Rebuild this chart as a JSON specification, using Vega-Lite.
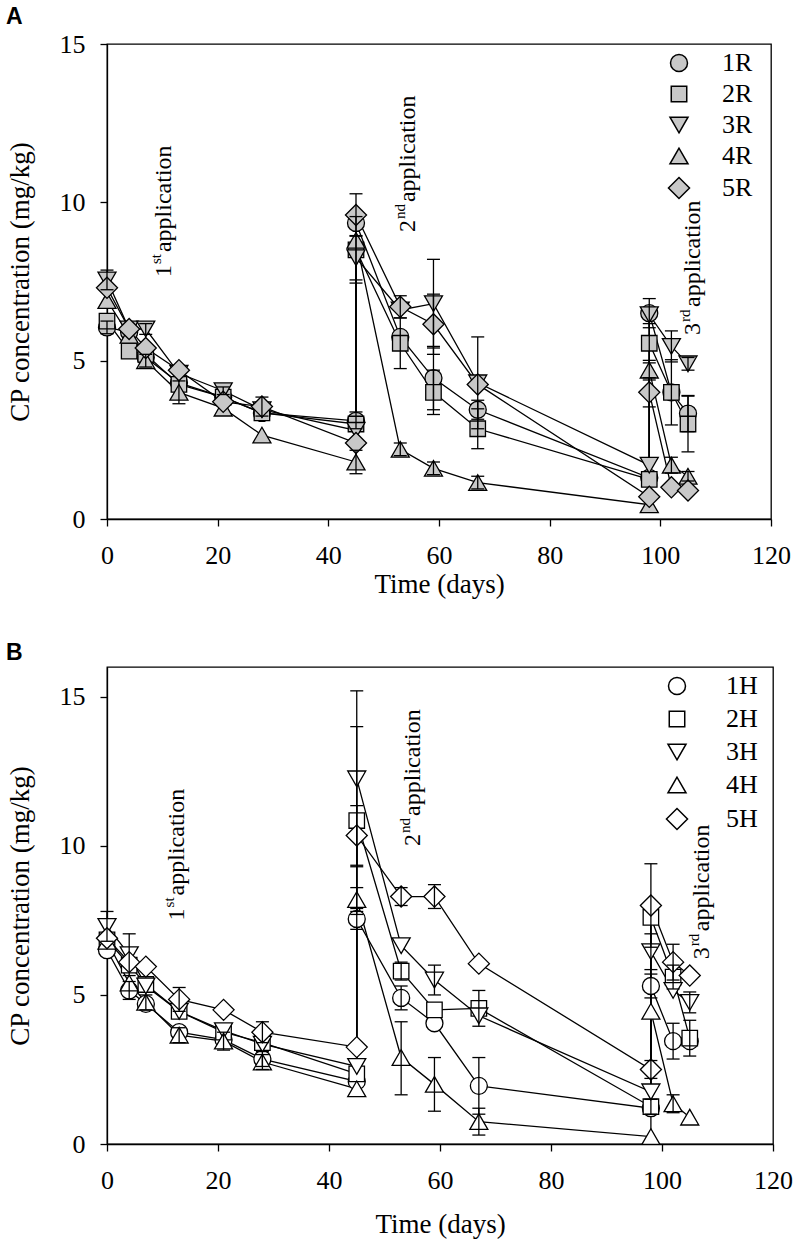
{
  "$schema": "https://vega.github.io/schema/vega-lite/v6.json",
  "padding": {"left": 5, "top": 5, "right": 5, "bottom": 5},
  "background": "white",
  "config": {
    "font": "Liberation Serif",
    "view": {"stroke": "black", "strokeWidth": 1.3},
    "style": {"guide-label": {"font": "Liberation Serif", "fill": "black"}, "guide-title": {"font": "Liberation Serif", "fill": "black"}},
    "axis": {
      "labelFont": "Liberation Serif", "labelFontSize": 26, "labelColor": "black",
      "titleFont": "Liberation Serif", "titleFontSize": 27, "titleFontWeight": "normal", "titleColor": "black",
      "domainColor": "black", "domainWidth": 1.3, "tickColor": "black", "tickWidth": 1.3, "tickSize": 7,
      "grid": false, "labelFlush": false, "labelOverlap": false
    },
    "legend": {
      "labelFont": "Liberation Serif", "labelFontSize": 26, "labelColor": "black",
      "symbolSize": 289, "padding": 0, "rowPadding": 5, "labelOffset": 30
    },
    "title": {"font": "Liberation Sans", "fontSize": 23, "fontWeight": "bold", "color": "black", "anchor": "start", "offset": 2}
  },
  "datasets": {
    "A": [
      {"s": "1R", "o": 0, "d": 0, "v": 6.05, "lo": 5.85, "hi": 6.25},
      {"s": "1R", "o": 1, "d": 4, "v": 5.9},
      {"s": "1R", "o": 2, "d": 7, "v": 5.1},
      {"s": "1R", "o": 3, "d": 13, "v": 4.3},
      {"s": "1R", "o": 4, "d": 21, "v": 3.85},
      {"s": "1R", "o": 5, "d": 28, "v": 3.35},
      {"s": "1R", "o": 6, "d": 45, "v": 3.1, "lo": 2.85, "hi": 3.38},
      {"s": "1R", "o": 7, "d": 45, "v": 9.35},
      {"s": "1R", "o": 8, "d": 53, "v": 5.75},
      {"s": "1R", "o": 9, "d": 59, "v": 4.45, "lo": 3.45, "hi": 5.45},
      {"s": "1R", "o": 10, "d": 67, "v": 3.45, "lo": 3.15, "hi": 3.75},
      {"s": "1R", "o": 11, "d": 98, "v": 1.3},
      {"s": "1R", "o": 12, "d": 98, "v": 6.5, "lo": 6.04, "hi": 6.96},
      {"s": "1R", "o": 13, "d": 102, "v": 4.0},
      {"s": "1R", "o": 14, "d": 105, "v": 3.33, "lo": 2.76, "hi": 3.9},
      {"s": "2R", "o": 0, "d": 0, "v": 6.25},
      {"s": "2R", "o": 1, "d": 4, "v": 5.3},
      {"s": "2R", "o": 2, "d": 7, "v": 5.2},
      {"s": "2R", "o": 3, "d": 13, "v": 4.25},
      {"s": "2R", "o": 4, "d": 21, "v": 3.85},
      {"s": "2R", "o": 5, "d": 28, "v": 3.35},
      {"s": "2R", "o": 6, "d": 45, "v": 3.0},
      {"s": "2R", "o": 7, "d": 45, "v": 8.5, "lo": 7.45, "hi": 9.55},
      {"s": "2R", "o": 8, "d": 53, "v": 5.55, "lo": 4.75, "hi": 6.35},
      {"s": "2R", "o": 9, "d": 59, "v": 4.0, "lo": 3.3, "hi": 4.7},
      {"s": "2R", "o": 10, "d": 67, "v": 2.85, "lo": 2.22, "hi": 3.48},
      {"s": "2R", "o": 11, "d": 98, "v": 1.25},
      {"s": "2R", "o": 12, "d": 98, "v": 5.55, "lo": 4.93, "hi": 6.17},
      {"s": "2R", "o": 13, "d": 102, "v": 4.0, "lo": 2.97, "hi": 5.03},
      {"s": "2R", "o": 14, "d": 105, "v": 3.0, "lo": 2.12, "hi": 3.88},
      {"s": "3R", "o": 0, "d": 0, "v": 7.55, "lo": 7.24, "hi": 7.86},
      {"s": "3R", "o": 1, "d": 4, "v": 6.0},
      {"s": "3R", "o": 2, "d": 7, "v": 6.0, "lo": 5.83, "hi": 6.17},
      {"s": "3R", "o": 3, "d": 13, "v": 4.6},
      {"s": "3R", "o": 4, "d": 21, "v": 4.05, "lo": 3.93, "hi": 4.17},
      {"s": "3R", "o": 5, "d": 28, "v": 3.45},
      {"s": "3R", "o": 6, "d": 45, "v": 2.8},
      {"s": "3R", "o": 7, "d": 45, "v": 8.25, "lo": 7.55, "hi": 8.95},
      {"s": "3R", "o": 8, "d": 53, "v": 6.6},
      {"s": "3R", "o": 9, "d": 59, "v": 6.8, "lo": 5.4, "hi": 8.2},
      {"s": "3R", "o": 10, "d": 67, "v": 4.3, "lo": 2.85, "hi": 5.75},
      {"s": "3R", "o": 11, "d": 98, "v": 1.7},
      {"s": "3R", "o": 12, "d": 98, "v": 6.45},
      {"s": "3R", "o": 13, "d": 102, "v": 5.45, "lo": 4.96, "hi": 5.94},
      {"s": "3R", "o": 14, "d": 105, "v": 4.9, "lo": 4.7, "hi": 5.1},
      {"s": "4R", "o": 0, "d": 0, "v": 6.9},
      {"s": "4R", "o": 1, "d": 4, "v": 5.8},
      {"s": "4R", "o": 2, "d": 7, "v": 5.0, "lo": 4.8, "hi": 5.2},
      {"s": "4R", "o": 3, "d": 13, "v": 4.0, "lo": 3.64, "hi": 4.36},
      {"s": "4R", "o": 4, "d": 21, "v": 3.5},
      {"s": "4R", "o": 5, "d": 28, "v": 2.65},
      {"s": "4R", "o": 6, "d": 45, "v": 1.8, "lo": 1.43, "hi": 2.17},
      {"s": "4R", "o": 7, "d": 45, "v": 8.8},
      {"s": "4R", "o": 8, "d": 53, "v": 2.2, "lo": 2.0, "hi": 2.4},
      {"s": "4R", "o": 9, "d": 59, "v": 1.6, "lo": 1.4, "hi": 1.8},
      {"s": "4R", "o": 10, "d": 67, "v": 1.15, "lo": 0.95, "hi": 1.35},
      {"s": "4R", "o": 11, "d": 98, "v": 0.45},
      {"s": "4R", "o": 12, "d": 98, "v": 4.7, "lo": 4.39, "hi": 5.01},
      {"s": "4R", "o": 13, "d": 102, "v": 1.7, "lo": 1.45, "hi": 1.95},
      {"s": "4R", "o": 14, "d": 105, "v": 1.35, "lo": 1.2, "hi": 1.5},
      {"s": "5R", "o": 0, "d": 0, "v": 7.3},
      {"s": "5R", "o": 1, "d": 4, "v": 6.0},
      {"s": "5R", "o": 2, "d": 7, "v": 5.4},
      {"s": "5R", "o": 3, "d": 13, "v": 4.7},
      {"s": "5R", "o": 4, "d": 21, "v": 3.7},
      {"s": "5R", "o": 5, "d": 28, "v": 3.55, "lo": 3.25, "hi": 3.85},
      {"s": "5R", "o": 6, "d": 45, "v": 2.4},
      {"s": "5R", "o": 7, "d": 45, "v": 9.6, "lo": 8.93, "hi": 10.27},
      {"s": "5R", "o": 8, "d": 53, "v": 6.7, "lo": 6.35, "hi": 7.05},
      {"s": "5R", "o": 9, "d": 59, "v": 6.15, "lo": 5.2, "hi": 7.1},
      {"s": "5R", "o": 10, "d": 67, "v": 4.25},
      {"s": "5R", "o": 11, "d": 98, "v": 0.7},
      {"s": "5R", "o": 12, "d": 98, "v": 4.0, "lo": 3.54, "hi": 4.46},
      {"s": "5R", "o": 13, "d": 102, "v": 1.0},
      {"s": "5R", "o": 14, "d": 105, "v": 0.9}
    ],
    "B": [
      {"s": "1H", "o": 0, "d": 0, "v": 6.5},
      {"s": "1H", "o": 1, "d": 4, "v": 5.15, "lo": 4.85, "hi": 5.45},
      {"s": "1H", "o": 2, "d": 7, "v": 4.7},
      {"s": "1H", "o": 3, "d": 13, "v": 3.75},
      {"s": "1H", "o": 4, "d": 21, "v": 3.5},
      {"s": "1H", "o": 5, "d": 28, "v": 2.85, "lo": 2.6, "hi": 3.1},
      {"s": "1H", "o": 6, "d": 45, "v": 2.1},
      {"s": "1H", "o": 7, "d": 45, "v": 7.55, "lo": 7.2, "hi": 7.9},
      {"s": "1H", "o": 8, "d": 53, "v": 4.9, "lo": 4.5, "hi": 5.3},
      {"s": "1H", "o": 9, "d": 59, "v": 4.05},
      {"s": "1H", "o": 10, "d": 67, "v": 1.95, "lo": 1.0, "hi": 2.9},
      {"s": "1H", "o": 11, "d": 98, "v": 1.2},
      {"s": "1H", "o": 12, "d": 98, "v": 5.3, "lo": 4.9, "hi": 5.7},
      {"s": "1H", "o": 13, "d": 102, "v": 3.45, "lo": 2.85, "hi": 4.05},
      {"s": "1H", "o": 14, "d": 105, "v": 3.45},
      {"s": "2H", "o": 0, "d": 0, "v": 6.85},
      {"s": "2H", "o": 1, "d": 4, "v": 6.0},
      {"s": "2H", "o": 2, "d": 7, "v": 5.35},
      {"s": "2H", "o": 3, "d": 13, "v": 4.45},
      {"s": "2H", "o": 4, "d": 21, "v": 3.75},
      {"s": "2H", "o": 5, "d": 28, "v": 3.4},
      {"s": "2H", "o": 6, "d": 45, "v": 2.35},
      {"s": "2H", "o": 7, "d": 45, "v": 10.85, "lo": 7.7, "hi": 14.0},
      {"s": "2H", "o": 8, "d": 53, "v": 5.8, "lo": 5.5, "hi": 6.1},
      {"s": "2H", "o": 9, "d": 59, "v": 4.5},
      {"s": "2H", "o": 10, "d": 67, "v": 4.55, "lo": 3.95, "hi": 5.15},
      {"s": "2H", "o": 11, "d": 98, "v": 1.25, "lo": 1.0, "hi": 1.5},
      {"s": "2H", "o": 12, "d": 98, "v": 7.6},
      {"s": "2H", "o": 13, "d": 102, "v": 5.6, "lo": 5.2, "hi": 6.0},
      {"s": "2H", "o": 14, "d": 105, "v": 3.55, "lo": 2.95, "hi": 4.15},
      {"s": "3H", "o": 0, "d": 0, "v": 7.3, "lo": 6.8, "hi": 7.8},
      {"s": "3H", "o": 1, "d": 4, "v": 6.35, "lo": 5.65, "hi": 7.05},
      {"s": "3H", "o": 2, "d": 7, "v": 5.3},
      {"s": "3H", "o": 3, "d": 13, "v": 4.45},
      {"s": "3H", "o": 4, "d": 21, "v": 3.8},
      {"s": "3H", "o": 5, "d": 28, "v": 3.35},
      {"s": "3H", "o": 6, "d": 45, "v": 2.6},
      {"s": "3H", "o": 7, "d": 45, "v": 12.25, "lo": 9.3, "hi": 15.2},
      {"s": "3H", "o": 8, "d": 53, "v": 6.65},
      {"s": "3H", "o": 9, "d": 59, "v": 5.5, "lo": 5.0, "hi": 6.0},
      {"s": "3H", "o": 10, "d": 67, "v": 4.3},
      {"s": "3H", "o": 11, "d": 98, "v": 1.75},
      {"s": "3H", "o": 12, "d": 98, "v": 6.45, "lo": 5.85, "hi": 7.05},
      {"s": "3H", "o": 13, "d": 102, "v": 5.15},
      {"s": "3H", "o": 14, "d": 105, "v": 4.75, "lo": 4.4, "hi": 5.1},
      {"s": "4H", "o": 0, "d": 0, "v": 6.8},
      {"s": "4H", "o": 1, "d": 4, "v": 5.4},
      {"s": "4H", "o": 2, "d": 7, "v": 4.75, "lo": 4.5, "hi": 5.0},
      {"s": "4H", "o": 3, "d": 13, "v": 3.65, "lo": 3.4, "hi": 3.9},
      {"s": "4H", "o": 4, "d": 21, "v": 3.45, "lo": 3.15, "hi": 3.75},
      {"s": "4H", "o": 5, "d": 28, "v": 2.75, "lo": 2.5, "hi": 3.0},
      {"s": "4H", "o": 6, "d": 45, "v": 1.85},
      {"s": "4H", "o": 7, "d": 45, "v": 8.2, "lo": 7.8, "hi": 8.6},
      {"s": "4H", "o": 8, "d": 53, "v": 2.9, "lo": 1.65, "hi": 4.1},
      {"s": "4H", "o": 9, "d": 59, "v": 2.0, "lo": 1.1, "hi": 2.9},
      {"s": "4H", "o": 10, "d": 67, "v": 0.75, "lo": 0.3, "hi": 1.2},
      {"s": "4H", "o": 11, "d": 98, "v": 0.25},
      {"s": "4H", "o": 12, "d": 98, "v": 4.45},
      {"s": "4H", "o": 13, "d": 102, "v": 1.35, "lo": 1.05, "hi": 1.65},
      {"s": "4H", "o": 14, "d": 105, "v": 0.9},
      {"s": "5H", "o": 0, "d": 0, "v": 6.9},
      {"s": "5H", "o": 1, "d": 4, "v": 6.1},
      {"s": "5H", "o": 2, "d": 7, "v": 5.95},
      {"s": "5H", "o": 3, "d": 13, "v": 4.85, "lo": 4.45, "hi": 5.25},
      {"s": "5H", "o": 4, "d": 21, "v": 4.5},
      {"s": "5H", "o": 5, "d": 28, "v": 3.75, "lo": 3.4, "hi": 4.1},
      {"s": "5H", "o": 6, "d": 45, "v": 3.25},
      {"s": "5H", "o": 7, "d": 45, "v": 10.35, "lo": 9.35, "hi": 11.35},
      {"s": "5H", "o": 8, "d": 53, "v": 8.3, "lo": 8.0, "hi": 8.6},
      {"s": "5H", "o": 9, "d": 59, "v": 8.3, "lo": 7.9, "hi": 8.7},
      {"s": "5H", "o": 10, "d": 67, "v": 6.05},
      {"s": "5H", "o": 11, "d": 98, "v": 2.5, "lo": 2.2, "hi": 2.8},
      {"s": "5H", "o": 12, "d": 98, "v": 8.0, "lo": 6.6, "hi": 9.4},
      {"s": "5H", "o": 13, "d": 102, "v": 6.1, "lo": 5.5, "hi": 6.7},
      {"s": "5H", "o": 14, "d": 105, "v": 5.65}
    ],
    "annA": [
      {"x": 11.6, "y": 7.64, "n": "1", "sup": "st"},
      {"x": 55.7, "y": 9.06, "n": "2", "sup": "nd"},
      {"x": 107.2, "y": 5.81, "n": "3", "sup": "rd"}
    ],
    "annB": [
      {"x": 13.9, "y": 7.5, "n": "1", "sup": "st"},
      {"x": 56.4, "y": 10.0, "n": "2", "sup": "nd"},
      {"x": 108.5, "y": 6.2, "n": "3", "sup": "rd"}
    ]
  },
  "resolve": {
    "scale": {"x": "independent", "y": "independent", "shape": "independent"},
    "legend": {"shape": "independent"}
  },
  "spacing": 43,
  "vconcat": [
    {
      "title": {"text": "A"},
      "width": 664,
      "height": 475,
      "layer": [
        {
          "data": {"name": "A"},
          "mark": {"type": "line", "color": "black", "strokeWidth": 1.3},
          "encoding": {
            "x": {"field": "d", "type": "quantitative", "title": "Time (days)",
                  "scale": {"domain": [0, 120], "nice": false},
                  "axis": {"values": [0, 20, 40, 60, 80, 100, 120], "labelPadding": 16, "titlePadding": 3, "labelFont": "Liberation Serif"}},
            "y": {"field": "v", "type": "quantitative", "title": "CP concentration (mg/kg)",
                  "scale": {"domain": [0, 15], "nice": false},
                  "axis": {"values": [0, 5, 10, 15], "labelPadding": 15, "titlePadding": 25, "labelFont": "Liberation Serif"}},
            "detail": {"field": "s"},
            "order": {"field": "o", "type": "quantitative"}
          }
        },
        {
          "data": {"name": "A"},
          "mark": {"type": "point", "filled": true, "fill": "#c8c8c8", "stroke": "black", "strokeWidth": 1.3, "opacity": 1, "size": 289},
          "encoding": {
            "x": {"field": "d", "type": "quantitative", "title": "Time (days)"},
            "y": {"field": "v", "type": "quantitative", "title": "CP concentration (mg/kg)"},
            "shape": {"field": "s", "type": "nominal",
                      "scale": {"domain": ["1R", "2R", "3R", "4R", "5R"], "range": ["circle", "M-0.91,-0.91L0.91,-0.91L0.91,0.91L-0.91,0.91Z", "M0,0.92L1.06,-0.92L-1.06,-0.92Z", "M0,-0.92L-1.06,0.92L1.06,0.92Z", "M-1.24,0L0,-1.24L1.24,0L0,1.24Z"]},
                      "legend": {
                        "title": null, "orient": "none", "legendX": 559, "legendY": 6,
                        "encode": {"symbols": {
                          "fill": {"value": "#c8c8c8"}, "stroke": {"value": "black"}, "strokeWidth": {"value": 1.3}, "opacity": {"value": 1}
                        }}
                      }}
          }
        },
        {
          "data": {"name": "A"},
          "transform": [{"filter": "datum.lo != null"}],
          "mark": {"type": "rule", "color": "black", "strokeWidth": 1.3},
          "encoding": {
            "x": {"field": "d", "type": "quantitative", "title": "Time (days)"},
            "y": {"field": "lo", "type": "quantitative", "title": "CP concentration (mg/kg)"},
            "y2": {"field": "hi"}
          }
        },
        {
          "data": {"name": "A"},
          "transform": [{"filter": "datum.lo != null"}],
          "mark": {"type": "tick", "orient": "horizontal", "size": 13, "thickness": 1.3, "color": "black", "opacity": 1},
          "encoding": {
            "x": {"field": "d", "type": "quantitative", "title": "Time (days)"},
            "y": {"field": "lo", "type": "quantitative", "title": "CP concentration (mg/kg)"}
          }
        },
        {
          "data": {"name": "A"},
          "transform": [{"filter": "datum.lo != null"}],
          "mark": {"type": "tick", "orient": "horizontal", "size": 13, "thickness": 1.3, "color": "black", "opacity": 1},
          "encoding": {
            "x": {"field": "d", "type": "quantitative", "title": "Time (days)"},
            "y": {"field": "hi", "type": "quantitative", "title": "CP concentration (mg/kg)"}
          }
        },
        {
          "data": {"name": "annA"},
          "mark": {"type": "text", "angle": 270, "align": "left", "baseline": "alphabetic", "font": "Liberation Serif", "fontSize": 24, "color": "black"},
          "encoding": {
            "x": {"field": "x", "type": "quantitative", "title": "Time (days)"},
            "y": {"field": "y", "type": "quantitative", "title": "CP concentration (mg/kg)"},
            "text": {"field": "n"}
          }
        },
        {
          "data": {"name": "annA"},
          "mark": {"type": "text", "angle": 270, "align": "left", "baseline": "alphabetic", "font": "Liberation Serif", "fontSize": 15, "color": "black", "dx": 13, "dy": -10},
          "encoding": {
            "x": {"field": "x", "type": "quantitative", "title": "Time (days)"},
            "y": {"field": "y", "type": "quantitative", "title": "CP concentration (mg/kg)"},
            "text": {"field": "sup"}
          }
        },
        {
          "data": {"name": "annA"},
          "mark": {"type": "text", "angle": 270, "align": "left", "baseline": "alphabetic", "font": "Liberation Serif", "fontSize": 24, "color": "black",
                   "dx": {"expr": "datum.sup == 'nd' ? 30 : datum.sup == 'rd' ? 28 : 25"}},
          "encoding": {
            "x": {"field": "x", "type": "quantitative", "title": "Time (days)"},
            "y": {"field": "y", "type": "quantitative", "title": "CP concentration (mg/kg)"},
            "text": {"value": "application"}
          }
        }
      ]
    },
    {
      "title": {"text": "B"},
      "width": 666,
      "height": 477,
      "layer": [
        {
          "data": {"name": "B"},
          "mark": {"type": "line", "color": "black", "strokeWidth": 1.3},
          "encoding": {
            "x": {"field": "d", "type": "quantitative", "title": "Time (days)",
                  "scale": {"domain": [0, 120], "nice": false},
                  "axis": {"values": [0, 20, 40, 60, 80, 100, 120], "labelPadding": 16, "titlePadding": 18, "labelFont": "Liberation Serif"}},
            "y": {"field": "v", "type": "quantitative", "title": "CP concentration (mg/kg)",
                  "scale": {"domain": [0, 16], "nice": false},
                  "axis": {"values": [0, 5, 10, 15], "labelPadding": 15, "titlePadding": 25, "labelFont": "Liberation Serif"}},
            "detail": {"field": "s"},
            "order": {"field": "o", "type": "quantitative"}
          }
        },
        {
          "data": {"name": "B"},
          "mark": {"type": "point", "filled": true, "fill": "white", "stroke": "black", "strokeWidth": 1.3, "opacity": 1, "size": 289},
          "encoding": {
            "x": {"field": "d", "type": "quantitative", "title": "Time (days)"},
            "y": {"field": "v", "type": "quantitative", "title": "CP concentration (mg/kg)"},
            "shape": {"field": "s", "type": "nominal",
                      "scale": {"domain": ["1H", "2H", "3H", "4H", "5H"], "range": ["circle", "M-0.91,-0.91L0.91,-0.91L0.91,0.91L-0.91,0.91Z", "M0,0.92L1.06,-0.92L-1.06,-0.92Z", "M0,-0.92L-1.06,0.92L1.06,0.92Z", "M-1.24,0L0,-1.24L1.24,0L0,1.24Z"]},
                      "legend": {
                        "title": null, "orient": "none", "legendX": 557, "legendY": 6, "rowPadding": 7, "labelOffset": 36,
                        "encode": {"symbols": {
                          "fill": {"value": "white"}, "stroke": {"value": "black"}, "strokeWidth": {"value": 1.3}, "opacity": {"value": 1}
                        }}
                      }}
          }
        },
        {
          "data": {"name": "B"},
          "transform": [{"filter": "datum.lo != null"}],
          "mark": {"type": "rule", "color": "black", "strokeWidth": 1.3},
          "encoding": {
            "x": {"field": "d", "type": "quantitative", "title": "Time (days)"},
            "y": {"field": "lo", "type": "quantitative", "title": "CP concentration (mg/kg)"},
            "y2": {"field": "hi"}
          }
        },
        {
          "data": {"name": "B"},
          "transform": [{"filter": "datum.lo != null"}],
          "mark": {"type": "tick", "orient": "horizontal", "size": 13, "thickness": 1.3, "color": "black", "opacity": 1},
          "encoding": {
            "x": {"field": "d", "type": "quantitative", "title": "Time (days)"},
            "y": {"field": "lo", "type": "quantitative", "title": "CP concentration (mg/kg)"}
          }
        },
        {
          "data": {"name": "B"},
          "transform": [{"filter": "datum.lo != null"}],
          "mark": {"type": "tick", "orient": "horizontal", "size": 13, "thickness": 1.3, "color": "black", "opacity": 1},
          "encoding": {
            "x": {"field": "d", "type": "quantitative", "title": "Time (days)"},
            "y": {"field": "hi", "type": "quantitative", "title": "CP concentration (mg/kg)"}
          }
        },
        {
          "data": {"name": "annB"},
          "mark": {"type": "text", "angle": 270, "align": "left", "baseline": "alphabetic", "font": "Liberation Serif", "fontSize": 24, "color": "black"},
          "encoding": {
            "x": {"field": "x", "type": "quantitative", "title": "Time (days)"},
            "y": {"field": "y", "type": "quantitative", "title": "CP concentration (mg/kg)"},
            "text": {"field": "n"}
          }
        },
        {
          "data": {"name": "annB"},
          "mark": {"type": "text", "angle": 270, "align": "left", "baseline": "alphabetic", "font": "Liberation Serif", "fontSize": 15, "color": "black", "dx": 13, "dy": -10},
          "encoding": {
            "x": {"field": "x", "type": "quantitative", "title": "Time (days)"},
            "y": {"field": "y", "type": "quantitative", "title": "CP concentration (mg/kg)"},
            "text": {"field": "sup"}
          }
        },
        {
          "data": {"name": "annB"},
          "mark": {"type": "text", "angle": 270, "align": "left", "baseline": "alphabetic", "font": "Liberation Serif", "fontSize": 24, "color": "black",
                   "dx": {"expr": "datum.sup == 'nd' ? 30 : datum.sup == 'rd' ? 28 : 25"}},
          "encoding": {
            "x": {"field": "x", "type": "quantitative", "title": "Time (days)"},
            "y": {"field": "y", "type": "quantitative", "title": "CP concentration (mg/kg)"},
            "text": {"value": "application"}
          }
        }
      ]
    }
  ]
}
